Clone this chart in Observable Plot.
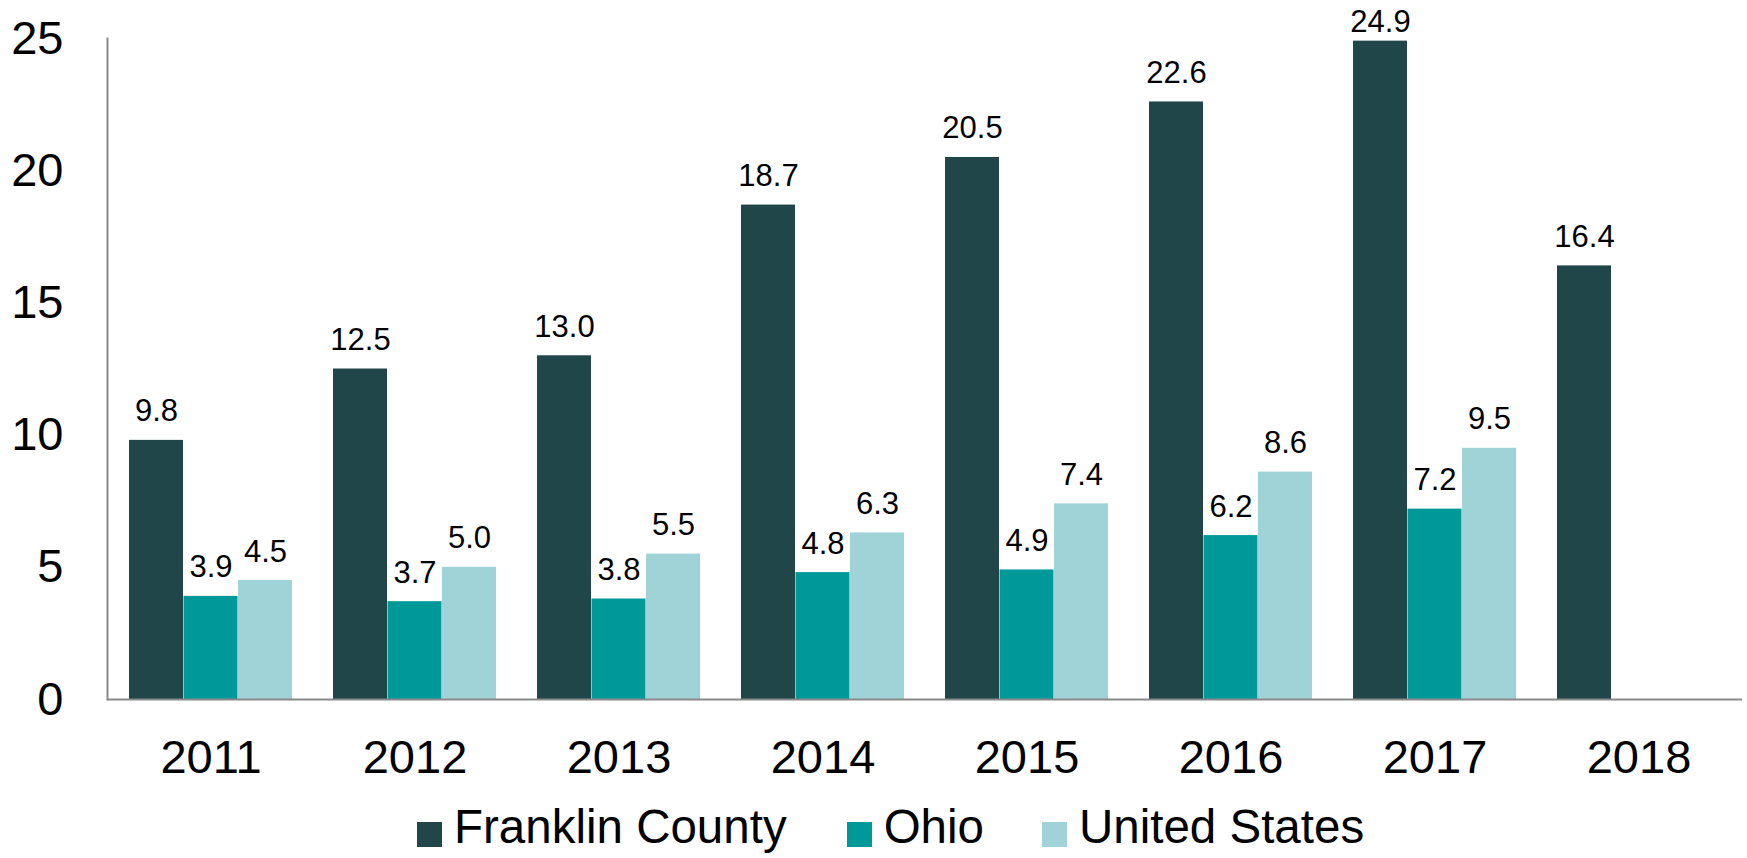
<!DOCTYPE html>
<html>
<head>
<meta charset="utf-8">
<script src="https://cdn.jsdelivr.net/npm/d3@7"></script>
<script src="https://cdn.jsdelivr.net/npm/@observablehq/plot@0.6"></script>
<style>
  body { margin: 0; background: #fff; font-family: "Liberation Sans", Arial, sans-serif; }
  #legend { display: flex; align-items: flex-start; margin-left: 417px; margin-top: 3px; height: 55px; font-size: 47.5px; line-height: 1; color: #000; }
  .item { display: flex; align-items: flex-start; }
  .sw { width: 25px; height: 25px; margin-top: 19px; margin-right: 12px; }
</style>
</head>
<body>
<div id="chart"></div>
<div id="legend"></div>
<script>
const years = ["2011", "2012", "2013", "2014", "2015", "2016", "2017", "2018"];
const seriesNames = ["Franklin County", "Ohio", "United States"];
const seriesColors = ["#204649", "#009999", "#A0D3D7"];
const franklin = [9.8, 12.5, 13.0, 18.7, 20.5, 22.6, 24.9, 16.4];
const ohio = [3.9, 3.7, 3.8, 4.8, 4.9, 6.2, 7.2];
const us = [4.5, 5.0, 5.5, 6.3, 7.4, 8.6, 9.5];
const yTicks = [0, 5, 10, 15, 20, 25];

const seriesValues = [franklin, ohio, us];
const rows = [];
seriesNames.forEach((s, i) => {
  seriesValues[i].forEach((v, j) => rows.push({year: years[j], series: s, value: v, idx: i}));
});

const W = 1747, ML = 107, MR = 5;
const step = (W - ML - MR) / years.length;
const bw = step * 0.8;
const third = bw / 3;
const fmt = d3.format(".1f");

const marks = [];
seriesNames.forEach((s, i) => {
  const data = rows.filter(d => d.series === s);
  marks.push(Plot.barY(data, {
    x: "year", y: "value", fill: seriesColors[i],
    insetLeft: third * i, insetRight: third * (2 - i)
  }));
  marks.push(Plot.text(data.filter(d => d.value < 24), {
    x: "year", y: "value", text: d => fmt(d.value), dx: third * (i - 1), dy: -19,
    lineAnchor: "bottom", fontSize: 31, fill: "#000"
  }));
  marks.push(Plot.text(data.filter(d => d.value >= 24), {
    x: "year", y: "value", text: d => fmt(d.value), dx: third * (i - 1), dy: -9,
    lineAnchor: "bottom", fontSize: 31, fill: "#000"
  }));
});
marks.push(Plot.ruleY([0], {stroke: "#898989", strokeWidth: 2}));
marks.push(Plot.frame({anchor: "left", stroke: "#898989", strokeWidth: 2}));

const chart = Plot.plot({
  width: W, height: 800,
  marginLeft: ML, marginRight: MR, marginTop: 38, marginBottom: 101,
  style: {fontFamily: '"Liberation Sans", Arial, sans-serif', fontSize: "47px", color: "#000", background: "#fff"},
  x: {domain: years, paddingInner: 0.2, paddingOuter: 0.1, label: null, tickSize: 0, tickPadding: 40},
  y: {domain: [0, 25], ticks: yTicks, label: null, tickSize: 0, tickPadding: 44},
  marks
});
document.getElementById("chart").appendChild(chart);

const legend = document.getElementById("legend");
const gaps = [60, 58, 0];
seriesNames.forEach((s, i) => {
  const it = document.createElement("div");
  it.className = "item";
  it.style.marginRight = gaps[i] + "px";
  const sw = document.createElement("div");
  sw.className = "sw";
  sw.style.background = seriesColors[i];
  const t = document.createElement("span");
  t.textContent = s;
  it.appendChild(sw); it.appendChild(t);
  legend.appendChild(it);
});
</script>
</body>
</html>
